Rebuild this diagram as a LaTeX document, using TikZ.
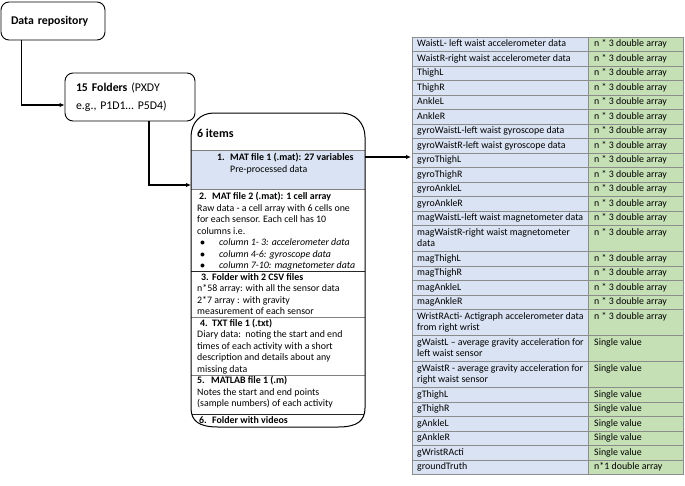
\documentclass[tikz,border=0pt]{standalone}
\usepackage{fontspec}
\setmainfont{Carlito}
\usetikzlibrary{arrows.meta}
\definecolor{bandblue}{HTML}{DAE3F3}
\definecolor{cellgreen}{HTML}{C5E0B4}
\definecolor{gridgray}{HTML}{8C8C8C}
\newcommand{\itemsboxpath}{(214,113) -- (341,113) .. controls (355,113) and (365,123) .. (365,137) -- (365,408) .. controls (365,421) and (357,427) .. (338,427) -- (218,427) .. controls (199,427) and (191,421) .. (191,408) -- (191,137) .. controls (191,123) and (200,113) .. (214,113) -- cycle}
\begin{document}
\begin{tikzpicture}[x=1pt,y=-1pt,
  box/.style={draw, line width=0.9pt, rounded corners=8pt, align=left, inner ysep=0pt},
  conn/.style={line width=1.2pt, -{Latex[length=5pt,width=4.5pt]}},
  txt/.style={anchor=base west, inner sep=0pt, font=\fontsize{9.9}{11.5}\selectfont},
  ltxt/.style={anchor=north west, inner sep=0pt, align=left, font=\fontsize{9.9}{11.5}\selectfont},
  grid/.style={draw=gridgray, line width=0.6pt},
  sepgray/.style={draw=gray, line width=0.7pt},
  sepdark/.style={draw=black!85, line width=0.8pt}]
\useasboundingbox (0,0) rectangle (685,485);
\fill[white] (0,0) rectangle (685,485);

% left boxes
\node[box, minimum width=104pt, minimum height=38pt, text width=84pt, inner xsep=10pt,
  font=\fontsize{11.8}{14}\selectfont\bfseries] (repo) at (53,21) {Data repository};
\node[box, minimum width=130pt, minimum height=48pt, text width=108pt, inner xsep=11pt,
  font=\fontsize{11.8}{18}\selectfont] (folders) at (130,97) {\textbf{15 Folders} (PXDY\\e.g., P1D1… P5D4)};

\coordinate (itemsW) at (191,185);
\coordinate (itemsE) at (365,157);
\coordinate (tabW) at (411,157);
\draw[conn] ([xshift=21pt]repo.south west) |- ([yshift=-8pt]folders.west);
\draw[conn] ([xshift=19pt]folders.south) |- (itemsW);

% items box
\begin{scope}
  \clip \itemsboxpath;
  \fill[bandblue] (191,150) rectangle (365,189);
  \draw[sepgray] (191,150) -- (365,150);
  \draw[sepgray] (191,189) -- (365,189);
  \draw[sepdark] (191,271.5) -- (365,271.5);
  \draw[sepgray] (191,317.5) -- (365,317.5);
  \draw[sepgray] (191,375) -- (365,375);
  \draw[sepdark] (191,414) -- (365,414);
\end{scope}
\draw[line width=1pt] \itemsboxpath;

\foreach \x/\y/\t [count=\k] in {
  197/137/{\fontsize{12}{14}\selectfont\bfseries 6 items},
  217/160.5/{\textbf{\makebox[13pt][l]{1.}MAT file 1 (.mat): 27 variables}},
  230/172.5/{Pre-processed data},
  199/199.5/{\textbf{\makebox[13pt][l]{2.}MAT file 2 (.mat): 1 cell array}},
  197/211/{Raw data - a cell array with 6 cells one},
  197/222.5/{for each sensor. Each cell has 10},
  197/234/{columns i.e.},
  200/245.5/{\makebox[19pt][l]{$\bullet$}\textit{column 1- 3: accelerometer data}},
  200/257/{\makebox[19pt][l]{$\bullet$}\textit{column 4-6: gyroscope data}},
  200/268.5/{\makebox[19pt][l]{$\bullet$}\textit{column 7-10: magnetometer data}},
  201/280/{\textbf{\makebox[11pt][l]{3.}Folder with 2 CSV files}},
  197/291.5/{n*58 array: with all the sensor data},
  197/303/{2*7 array : with gravity},
  197/314.5/{measurement of each sensor},
  200/326/{\textbf{\makebox[12pt][l]{4.}TXT file 1 (.txt)}},
  197/337.5/{Diary data:\ \ noting the start and end},
  197/349/{times of each activity with a short},
  197/360.5/{description and details about any},
  197/372/{missing data},
  197/383.5/{\textbf{\makebox[14pt][l]{5.}MATLAB file 1 (.m)}},
  197/395/{Notes the start and end points},
  197/406.5/{(sample numbers) of each activity},
  199/423.5/{\textbf{\makebox[13pt][l]{6.}Folder with videos}}
}{
  \node[txt] (it\k) at (\x,\y) {\t};
}

\draw[conn] (itemsE) -- (tabW);

% table
\foreach \tp/\h/\a/\b [count=\n] in {
  37/14.5/{WaistL- left waist accelerometer data}/{n * 3 double array},
  51.5/14.5/{WaistR-right waist accelerometer data}/{n * 3 double array},
  66/14.5/{ThighL}/{n * 3 double array},
  80.5/14.5/{ThighR}/{n * 3 double array},
  95/14.5/{AnkleL}/{n * 3 double array},
  109.5/14.5/{AnkleR}/{n * 3 double array},
  124/14.5/{gyroWaistL-left waist gyroscope data}/{n * 3 double array},
  138.5/14.5/{gyroWaistR-left waist gyroscope data}/{n * 3 double array},
  153/14.5/{gyroThighL}/{n * 3 double array},
  167.5/14.5/{gyroThighR}/{n * 3 double array},
  182/14.5/{gyroAnkleL}/{n * 3 double array},
  196.5/14.5/{gyroAnkleR}/{n * 3 double array},
  211/14.5/{magWaistL-left waist magnetometer data}/{n * 3 double array},
  225.5/26/{magWaistR-right waist magnetometer\\data}/{n * 3 double array},
  251.5/14.5/{magThighL}/{n * 3 double array},
  266/14.5/{magThighR}/{n * 3 double array},
  280.5/14.5/{magAnkleL}/{n * 3 double array},
  295/14.5/{magAnkleR}/{n * 3 double array},
  309.5/26/{WristRActi- Actigraph accelerometer data\\from right wrist}/{n * 3 double array},
  335.5/26/{gWaistL – average gravity acceleration for\\left waist sensor}/{Single value},
  361.5/26/{gWaistR - average gravity acceleration for\\right waist sensor}/{Single value},
  387.5/14.5/{gThighL}/{Single value},
  402/14.5/{gThighR}/{Single value},
  416.5/14.5/{gAnkleL}/{Single value},
  431/14.5/{gAnkleR}/{Single value},
  445.5/14.5/{gWristRActi}/{Single value},
  460/14.5/{groundTruth}/{n*1 double array}
}{
  \fill[bandblue] (412,\tp) rectangle (588,{\tp+\h});
  \fill[cellgreen] (588,\tp) rectangle (683,{\tp+\h});
  \draw[grid] (412,\tp) rectangle (683,{\tp+\h});
  \draw[grid] (588,\tp) -- (588,{\tp+\h});
  \node[ltxt] (L\n) at (417,{\tp+1.65}) {\strut\a};
  \node[txt] (R\n) at (594,{\tp+9.7}) {\b};
}
\end{tikzpicture}
\end{document}
